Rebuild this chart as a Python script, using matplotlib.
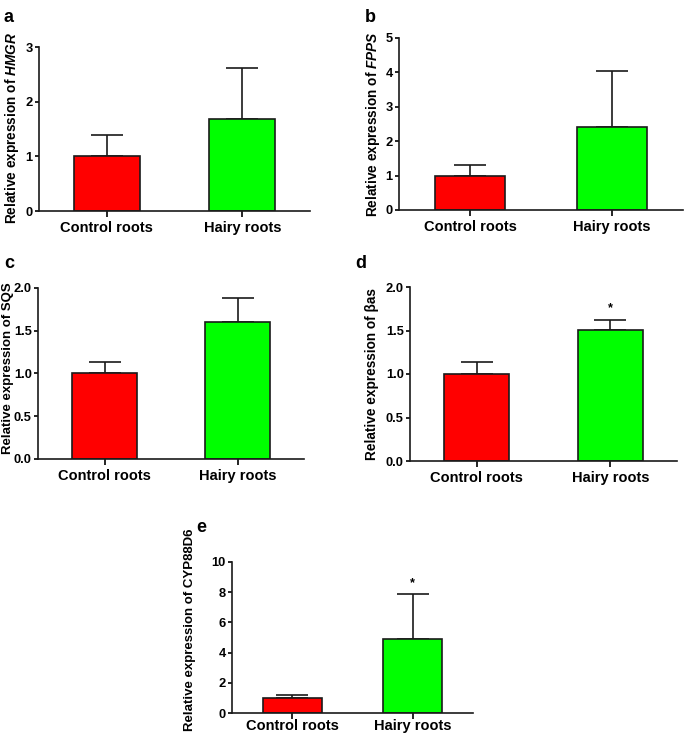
import numpy as np
import matplotlib.pyplot as plt

plt.rcParams.update({
    "font.family": "Liberation Sans",
    "font.weight": "bold",
    "mathtext.fontset": "custom",
    "mathtext.rm": "Liberation Sans:bold",
    "mathtext.it": "Liberation Sans:bold:italic",
    "mathtext.bf": "Liberation Sans:bold",
    "axes.linewidth": 1.2,
})

# ---- data ----------------------------------------------------------------
groups = ["Control roots", "Hairy roots"]
colors = ["#ff0000", "#00ff00"]

hmgr_mean = [1.00, 1.68]
hmgr_err = [0.39, 0.94]
fpps_mean = [1.00, 2.40]
fpps_err = [0.30, 1.63]
sqs_mean = [1.00, 1.60]
sqs_err = [0.13, 0.28]
bas_mean = [1.00, 1.51]
bas_err = [0.14, 0.11]
cyp_mean = [1.00, 4.90]
cyp_err = [0.20, 2.95]

panels = [
    # letter, mean, err, ylabel, ymax, yticks, yfmt, stars
    ("a", hmgr_mean, hmgr_err, r"Relative expression of $\it{HMGR}$", 3, [0, 1, 2, 3], "%d", ["", ""]),
    ("b", fpps_mean, fpps_err, r"Relative expression of $\it{FPPS}$", 5, [0, 1, 2, 3, 4, 5], "%d", ["", ""]),
    ("c", sqs_mean, sqs_err, "Relative expression of SQS", 2, [0, 0.5, 1.0, 1.5, 2.0], "%.1f", ["", ""]),
    ("d", bas_mean, bas_err, "Relative expression of βas", 2, [0, 0.5, 1.0, 1.5, 2.0], "%.1f", ["", "*"]),
    ("e", cyp_mean, cyp_err, "Relative expression of CYP88D6", 10, [0, 2, 4, 6, 8, 10], "%d", ["", "*"]),
]

# axes rectangles in pixels: left, right, top, bottom
W, H = 685, 733
rects_px = [
    (39, 310, 47, 211),
    (399, 683, 38, 210),
    (38, 304, 288, 459),
    (410, 677, 287, 461),
    (232, 473, 562, 713),
]
letter_px = [(4, 18), (365, 18), (4, 264), (355, 264), (196, 527)]
ylabel_xy_px = [(12, 128), (373, 124), (8, 368), (372, 374), (190, 630)]
ylabel_fs = [9.8, 9.8, 9.5, 9.8, 9.5]
xpad = [3, 3, 3, 3, 0.5]

fig = plt.figure(figsize=(W / 100, H / 100), dpi=100)

for (letter, mean, err, ylab, ymax, yt, fmt, stars), (l, r, t, b), (lx, ly), (yx, yy), yfs, pad in zip(
        panels, rects_px, letter_px, ylabel_xy_px, ylabel_fs, xpad):
    ax = fig.add_axes([l / W, 1 - b / H, (r - l) / W, (b - t) / H])
    x = np.arange(len(groups))
    ax.errorbar(x, mean, yerr=[np.zeros(len(err)), err], fmt="none",
                ecolor="#1a1a1a", elinewidth=1.2, capsize=11.5, capthick=1.2,
                zorder=1)
    ax.bar(x, mean, width=0.49, color=colors, edgecolor="#1a1a1a",
           linewidth=1.2, zorder=2)
    for xi, m, e, s in zip(x, mean, err, stars):
        if s:
            ax.annotate(s, (xi, m + e), xytext=(0, 4), textcoords="offset points",
                        ha="center", va="bottom", fontsize=9)

    ax.set_xlim(-0.5, 1.5)
    ax.set_ylim(0, ymax)
    ax.set_yticks(yt)
    ax.set_yticklabels([fmt % v for v in yt], fontsize=9.3, fontweight="bold")
    ax.set_xticks(x)
    ax.set_xticklabels(groups, fontsize=10.5, fontweight="bold")
    ax.tick_params(axis="y", length=3, width=1.2, pad=1.5, direction="out")
    ax.tick_params(axis="x", length=4, width=1.2, pad=pad, direction="out")
    ax.spines["top"].set_visible(False)
    ax.spines["right"].set_visible(False)
    for sp in ("left", "bottom"):
        ax.spines[sp].set_color("#1a1a1a")
    ax.set_ylabel(ylab, fontsize=yfs, fontweight="bold", va="center")
    ax.yaxis.set_label_coords((yx - l) / (r - l), (b - yy) / (b - t))

    fig.text(lx / W, 1 - ly / H, letter, fontsize=13, fontweight="bold",
             ha="left", va="center")

fig.savefig("out.png", dpi=100)
